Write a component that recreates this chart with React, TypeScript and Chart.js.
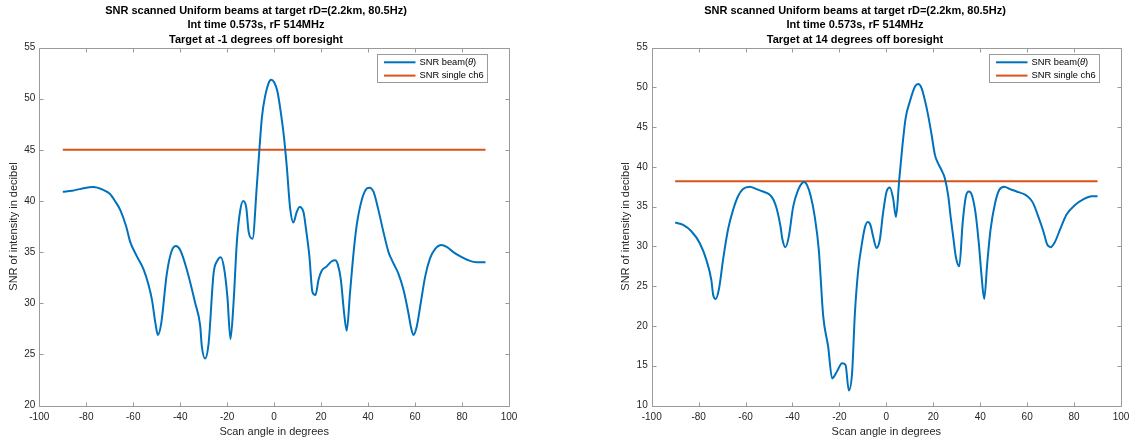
import { useEffect, useRef } from 'react';
import { Chart, registerables } from 'chart.js';

Chart.register(...registerables);

const FONT = '"Liberation Sans", Arial, Helvetica, sans-serif';

// Shared text
const titleHead = ['SNR scanned Uniform beams at target rD=(2.2km, 80.5Hz)', 'Int time 0.573s, rF 514MHz'];
const leftTargetLine = 'Target at -1 degrees off boresight';
const rightTargetLine = 'Target at 14 degrees off boresight';
const xAxisTitle = 'Scan angle in degrees';
const yAxisTitle = 'SNR of intensity in decibel';
const seriesLabels = ['SNR beam(θ)', 'SNR single ch6'];
const singleSpan = [-90, 90];

// Target at -1 degrees
const leftAngles = [
  -90, -86, -82, -77, -73, -70, -67.5, -65.5, -63, -61.3, -58.5, -55.6, -53.5, -52, -50.6, -49.5, -48.1,
  -45.7, -43.5, -41.8, -40, -37.2, -33.6, -31.5, -30.8, -29.4, -27.9, -25.8, -24.1, -22.7, -21.3, -19.9,
  -18.6, -17.3, -15.9, -14.5, -13.2, -11.9, -10.8, -9.2, -7.4, -6.2, -5.2, -3.8, -2.4, -1.3, 0, 1.4, 2.8,
  4.3, 5.4, 6.8, 8.2, 9.6, 10.8, 12.5, 13.6, 15, 16.3, 17.6, 18.9, 20.3, 22.4, 24.5, 26, 27.1, 28.4, 29.8,
  30.9, 32.3, 33.8, 35.2, 37.3, 39.4, 40.6, 42.3, 44.4, 46.5, 48.7, 50.8, 52.9, 55.1, 57.2, 58.2, 59.3,
  60.7, 62.4, 64.3, 66.4, 68.5, 71.3, 73.5, 76.3, 79.1, 82.7, 86.2, 90,
];
const leftBeamSnr = [
  40.9, 41.0, 41.2, 41.35, 41.1, 40.7, 39.9, 39.1, 37.5, 36.0, 34.6, 33.3, 31.8, 30.3, 28.1, 26.9, 28.0,
  32.9, 35.2, 35.6, 35.2, 33.3, 30.0, 27.8, 25.8, 24.6, 26.1, 32.9, 34.2, 34.5, 33.4, 30.6,
  26.5, 30.0, 35.9, 39.0, 40.0, 39.4, 36.9, 36.3, 41.4, 45.3, 48.2, 50.3, 51.5, 51.85, 51.6, 50.7, 48.7,
  46.0, 43.3, 39.3, 37.9, 38.9, 39.4, 38.9, 37.2, 34.6, 31.1, 30.8, 32.3, 33.2, 33.6, 34.1, 34.2, 33.8, 32.3, 29.0,
  27.3, 31.0, 34.9, 37.7, 40.1, 41.2, 41.3, 40.9, 39.1, 37.0, 35.0, 33.9, 32.9, 31.3, 29.0, 27.7, 26.9,
  27.7, 30.0, 32.6, 34.4, 35.3, 35.7, 35.5, 35.0, 34.6, 34.2, 34.0, 34.0,
];
const leftSingleCh6 = 45;

// Target at 14 degrees
const rightAngles = [
  -90, -86.6, -83.1, -79.5, -76.7, -74.6, -73.8, -72.7, -71.3, -69.6, -67.5, -65.3, -63.2, -61.1, -58.2,
  -55.4, -52.6, -49.7, -48, -46.6, -45.1, -44.3, -43, -41.6, -39.7, -37.6, -35.8, -35, -33.8, -32.2, -30.5,
  -28.8, -26.9, -24.8, -23.1, -21, -18.9, -17.4, -16, -14.6, -13.4, -12, -10.6, -9.2, -8, -6.8, -5.6, -4.2,
  -2.8, -1.4, 0.1, 1.5, 2.9, 4.1, 5.5, 6.8, 8.2, 10, 12.2, 13.6, 15, 16.4, 17.8, 19.3, 20.7, 21.8, 23.5,
  24.9, 26.4, 27.4, 28.5, 29.6, 31.1, 32.5, 33.9, 35.2, 36.6, 38, 39.4, 40.6, 41.7, 43, 44.4, 46.3, 48.1,
  50.3, 52.7, 55.5, 59.1, 61.2, 62.6, 64.8, 66.9, 68.6, 70, 71.9, 74, 76.8, 80.4, 83.9, 87.5, 90,
];
const rightBeamSnr = [
  33.0, 32.7, 31.9, 30.4, 28.3, 25.8, 23.9, 23.4, 24.7, 28.3, 32.1, 34.6, 36.3, 37.2, 37.5,
  37.2, 36.9, 36.5, 35.8, 34.6, 32.5, 30.9, 29.9, 31.2, 35.0, 37.1, 38.0, 38.1, 37.7, 36.3, 33.7,
  29.6, 21.2, 17.4, 13.4, 14.3, 15.3, 15.1, 11.9, 14.1, 21.6, 27.0, 30.0, 32.3, 33.05, 32.7, 31.2, 29.8,
  30.8, 34.2, 36.9, 37.4, 36.0, 33.7, 38.4, 42.5, 46.1, 48.2, 50.1, 50.4, 49.9, 48.4, 46.5, 44.0, 41.5, 40.6, 39.6,
  38.6, 36.3, 33.7, 31.2, 28.7, 27.5, 32.9, 36.3, 36.9, 36.3, 34.2, 30.4, 26.2, 23.4, 27.9, 32.1, 35.4, 37.1,
  37.5, 37.2, 36.9, 36.5, 36.0, 35.4, 33.7, 31.9, 30.2, 29.9, 30.6, 32.1, 34.0, 35.2, 35.9, 36.3, 36.3,
];
const rightSingleCh6 = 38.2;

const BLUE = '#0072BD';
const ORANGE = '#D95319';
const AXIS_LINE = '#9a9a9a';
const AXIS_TEXT = '#262626';

// Closed axes box with short inward tick marks on all four sides
const axesBox = {
  id: 'axesBox',
  afterDraw(chart: any) {
    const { ctx, chartArea: a, scales } = chart;
    const snap = (v: number) => Math.round(v) + 0.5;
    const L = snap(a.left);
    const R = snap(a.right);
    const T = snap(a.top);
    const B = snap(a.bottom);
    const len = 4;
    ctx.save();
    ctx.strokeStyle = AXIS_LINE;
    ctx.lineWidth = 1;
    ctx.beginPath();
    ctx.rect(L, T, R - L, B - T);
    for (const t of scales.x.ticks) {
      const px = snap(scales.x.getPixelForValue(t.value));
      ctx.moveTo(px, B);
      ctx.lineTo(px, B - len);
      ctx.moveTo(px, T);
      ctx.lineTo(px, T + len);
    }
    for (const t of scales.y.ticks) {
      const py = snap(scales.y.getPixelForValue(t.value));
      ctx.moveTo(L, py);
      ctx.lineTo(L + len, py);
      ctx.moveTo(R, py);
      ctx.lineTo(R - len, py);
    }
    ctx.stroke();
    ctx.restore();
  },
};

// Framed legend in the upper right of the plot area
const framedLegend = {
  id: 'framedLegend',
  afterDraw(chart: any, _args: any, opts: any) {
    const { ctx, chartArea: a } = chart;
    const w = opts.width;
    const h = opts.height;
    const x = Math.round(a.right - opts.right - w) + 0.5;
    const y = Math.round(a.top + opts.top) + 0.5;
    ctx.save();
    ctx.fillStyle = '#ffffff';
    ctx.fillRect(x, y, w, h);
    ctx.strokeStyle = AXIS_LINE;
    ctx.lineWidth = 1;
    ctx.strokeRect(x, y, w, h);
    chart.data.datasets.forEach((ds: any, i: number) => {
      const cy = y + opts.rowTop + i * opts.rowGap;
      ctx.strokeStyle = ds.borderColor;
      ctx.lineWidth = ds.borderWidth;
      ctx.beginPath();
      ctx.moveTo(x + opts.sampleStart, cy);
      ctx.lineTo(x + opts.sampleEnd, cy);
      ctx.stroke();
      ctx.fillStyle = '#000000';
      ctx.textBaseline = 'middle';
      ctx.textAlign = 'left';
      let tx = x + opts.textStart;
      for (const part of String(ds.label).split(/(θ)/)) {
        if (!part) continue;
        ctx.font = `${part === 'θ' ? 'italic ' : ''}${opts.fontSize}px ${FONT}`;
        ctx.fillText(part, tx, cy);
        tx += ctx.measureText(part).width;
      }
    });
    ctx.restore();
  },
};

type PanelProps = {
  left: number;
  width: number;
  padLeft: number;
  padRight: number;
  yAxisWidth: number;
  yTitleInset: number;
  targetLine: string;
  angles: number[];
  beam: number[];
  single: number;
  yMin: number;
};

function ScanPanel(p: PanelProps) {
  const ref = useRef<HTMLCanvasElement | null>(null);

  useEffect(() => {
    if (!ref.current) return;
    const chart = new Chart(ref.current, {
      type: 'line',
      data: {
        datasets: [
          {
            label: seriesLabels[0],
            data: p.angles.map((x, i) => ({ x, y: p.beam[i] })),
            borderColor: BLUE,
            borderWidth: 2,
            pointRadius: 0,
            cubicInterpolationMode: 'monotone',
            fill: false,
          },
          {
            label: seriesLabels[1],
            data: singleSpan.map((x) => ({ x, y: p.single })),
            borderColor: ORANGE,
            borderWidth: 2,
            pointRadius: 0,
            fill: false,
          },
        ],
      },
      options: {
        responsive: false,
        animation: false,
        devicePixelRatio: 1,
        layout: { padding: { left: p.padLeft, right: p.padRight, top: 0, bottom: 0 } },
        plugins: {
          legend: { display: false },
          tooltip: { enabled: false },
          title: {
            display: true,
            text: [...titleHead, p.targetLine],
            color: '#000000',
            font: { family: FONT, size: 11, weight: 'bold', lineHeight: '14.5px' },
            padding: { top: 3.5, bottom: 0.5 },
          },
          framedLegend: {
            width: 110,
            height: 28,
            right: 22.5,
            top: 6,
            rowTop: 7.8,
            rowGap: 13.3,
            sampleStart: 6.5,
            sampleEnd: 38,
            textStart: 42,
            fontSize: 9.3,
          },
        } as any,
        scales: {
          x: {
            type: 'linear',
            min: -100,
            max: 100,
            ticks: {
              stepSize: 20,
              color: AXIS_TEXT,
              font: { family: FONT, size: 10 },
              padding: 5.5,
              maxRotation: 0,
              autoSkip: false,
            },
            grid: { display: false, drawTicks: false },
            border: { display: false },
            title: {
              display: true,
              text: xAxisTitle,
              color: AXIS_TEXT,
              font: { family: FONT, size: 11 },
              padding: { top: 0, bottom: 2.7 },
            },
            afterFit: (s: any) => {
              s.height = 35.5;
            },
          },
          y: {
            type: 'linear',
            min: p.yMin,
            max: 55,
            ticks: {
              stepSize: 5,
              color: AXIS_TEXT,
              font: { family: FONT, size: 10 },
              padding: 4,
              autoSkip: false,
            },
            grid: { display: false, drawTicks: false },
            border: { display: false },
            title: {
              display: true,
              text: yAxisTitle,
              color: AXIS_TEXT,
              font: { family: FONT, size: 11 },
              padding: { top: p.yTitleInset, bottom: 0 },
            },
            afterFit: (s: any) => {
              s.width = p.yAxisWidth;
            },
          },
        },
      } as any,
      plugins: [axesBox, framedLegend],
    });
    return () => chart.destroy();
  }, []);

  return (
    <canvas
      ref={ref}
      width={p.width}
      height={441}
      style={{ position: 'absolute', left: p.left, top: 0, display: 'block' }}
    />
  );
}

export default function App() {
  return (
    <div style={{ position: 'fixed', left: 0, top: 0, width: 1136, height: 441, background: '#ffffff' }}>
      <ScanPanel
        left={0}
        width={560}
        padLeft={3}
        padRight={51}
        yAxisWidth={36.3}
        yTitleInset={4.6}
        targetLine={leftTargetLine}
        angles={leftAngles}
        beam={leftBeamSnr}
        single={leftSingleCh6}
        yMin={20}
      />
      <ScanPanel
        left={560}
        width={576}
        padLeft={29}
        padRight={15}
        yAxisWidth={62.7}
        yTitleInset={30.6}
        targetLine={rightTargetLine}
        angles={rightAngles}
        beam={rightBeamSnr}
        single={rightSingleCh6}
        yMin={10}
      />
    </div>
  );
}
